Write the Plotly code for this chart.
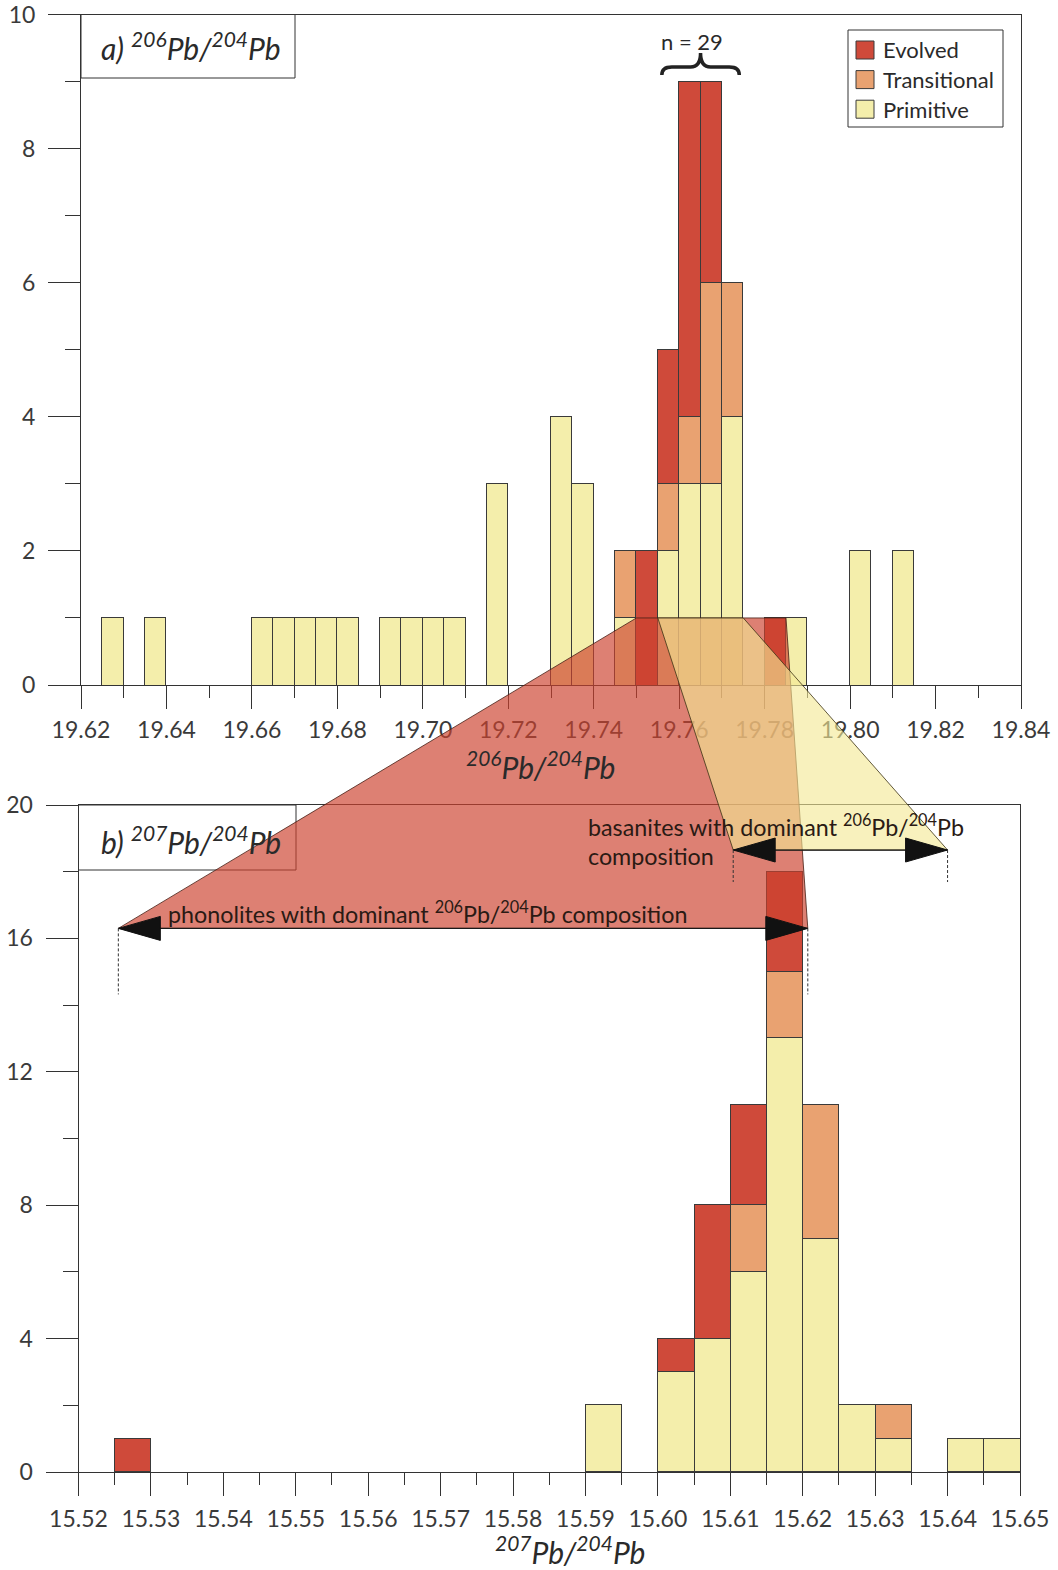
import plotly.graph_objects as go

W, H = 1058, 1570

# ---- 206Pb/204Pb: counts per 0.005-wide bin (left bin edges) ----
pb206_edges = [19.625, 19.635, 19.660, 19.665, 19.670, 19.675, 19.680,
               19.690, 19.695, 19.700, 19.705, 19.715, 19.730, 19.735,
               19.745, 19.750, 19.755, 19.760, 19.765, 19.770, 19.780,
               19.785, 19.800, 19.810]
pb206_primitive = [1, 1, 1, 1, 1, 1, 1, 1, 1, 1, 1, 3, 4, 3, 1, 0, 2, 3, 3, 4, 0, 1, 2, 2]
pb206_transitional = [0, 0, 0, 0, 0, 0, 0, 0, 0, 0, 0, 0, 0, 0, 1, 0, 1, 1, 3, 2, 0, 0, 0, 0]
pb206_evolved = [0, 0, 0, 0, 0, 0, 0, 0, 0, 0, 0, 0, 0, 0, 0, 2, 2, 5, 3, 0, 1, 0, 0, 0]

# ---- 207Pb/204Pb: counts per 0.005-wide bin (left bin edges) ----
pb207_edges = [15.525, 15.590, 15.600, 15.605, 15.610, 15.615, 15.620,
               15.625, 15.630, 15.640, 15.645]
pb207_primitive = [0, 2, 3, 4, 6, 13, 7, 2, 1, 1, 1]
pb207_transitional = [0, 0, 0, 0, 2, 2, 4, 0, 1, 0, 0]
pb207_evolved = [1, 0, 1, 4, 3, 3, 0, 0, 0, 0, 0]

BIN = 0.005
classes = ["Primitive", "Transitional", "Evolved"]
legend_order = ["Evolved", "Transitional", "Primitive"]

# Axis ranges and labelled ticks
pb206_range = [19.62, 19.84]
pb207_range = [15.52, 15.65]
count_a_range = [0, 10]
count_b_range = [0, 20]
count_a_ticks = [0, 2, 4, 6, 8, 10]
count_b_ticks = [0, 4, 8, 12, 16, 20]

# Peak cluster marked with the brace (bin edges)
peak_lo, peak_hi = 19.755, 19.775

# Fans linking 206Pb/204Pb bins (at count 1) to 207Pb/204Pb ranges
phon_top = (19.750, 19.785)
phon_range = (15.5255, 15.6207)
phon_level = 16.3
bas_top = (19.755, 19.775)
bas_range = (15.6104, 15.6400)
bas_level = 18.65

COLORS = {"Evolved": "#cf4a3a", "Transitional": "#e9a271", "Primitive": "#f4eeab"}
INK = "#333333"
FONT = "Lato"

# plot boxes in pixels: (left, right), (bottom, top)
A_X, A_Y = (81.0, 1021.0), (685.0, 14.5)
B_X, B_Y = (78.5, 1020.0), (1472.0, 805.0)


def paper(px, py):
    return px / W, 1 - py / H


def a_px(x, y):
    fx = (x - pb206_range[0]) / (pb206_range[1] - pb206_range[0])
    fy = (y - count_a_range[0]) / (count_a_range[1] - count_a_range[0])
    return A_X[0] + fx * (A_X[1] - A_X[0]), A_Y[0] + fy * (A_Y[1] - A_Y[0])


def b_px(x, y):
    fx = (x - pb207_range[0]) / (pb207_range[1] - pb207_range[0])
    fy = (y - count_b_range[0]) / (count_b_range[1] - count_b_range[0])
    return B_X[0] + fx * (B_X[1] - B_X[0]), B_Y[0] + fy * (B_Y[1] - B_Y[0])


def path(points, close=True):
    parts = []
    for i, (px, py) in enumerate(points):
        x, y = paper(px, py)
        parts.append(("M" if i == 0 else "L") + f"{x:.5f},{y:.5f}")
    return " ".join(parts) + (" Z" if close else "")


fig = go.Figure()


def add_stack(edges, series, xa, ya):
    for name, vals in zip(classes, series):
        xs = [e + BIN / 2 for e, v in zip(edges, vals) if v]
        ys = [v for v in vals if v]
        fig.add_trace(go.Bar(
            x=xs, y=ys, width=BIN, name=name, xaxis=xa, yaxis=ya,
            marker=dict(color=COLORS[name], line=dict(color="#3a3a3a", width=1)),
            showlegend=False, hoverinfo="skip"))


add_stack(pb206_edges, [pb206_primitive, pb206_transitional, pb206_evolved], "x", "y")
add_stack(pb207_edges, [pb207_primitive, pb207_transitional, pb207_evolved], "x2", "y2")

axis_common = dict(
    showline=True, mirror=True, linecolor=INK, linewidth=1,
    ticks="outside", tickcolor=INK, tickwidth=1,
    showgrid=False, zeroline=False, fixedrange=True, automargin=False,
    ticklabeloverflow="allow",
    tickfont=dict(family=FONT, size=23, color="#3a3a3a"),
)


def minor(dtick, length):
    return dict(dtick=dtick, ticklen=length, ticks="outside", tickcolor=INK,
                tickwidth=1, showgrid=False)


fig.update_layout(
    width=W, height=H, margin=dict(l=0, r=0, t=0, b=0),
    paper_bgcolor="white", plot_bgcolor="white",
    barmode="stack", bargap=0, showlegend=False,
    xaxis=dict(axis_common, domain=[A_X[0] / W, A_X[1] / W], anchor="y",
               range=pb206_range, tick0=19.62, dtick=0.02, tickformat=".2f",
               ticklen=23, minor=minor(0.01, 12), ticklabelstandoff=1),
    yaxis=dict(axis_common, domain=[1 - A_Y[0] / H, 1 - A_Y[1] / H], anchor="x",
               range=count_a_range, tickmode="array", tickvals=count_a_ticks,
               ticklen=32, minor=minor(1, 15), ticklabelstandoff=8),
    xaxis2=dict(axis_common, domain=[B_X[0] / W, B_X[1] / W], anchor="y2",
                range=pb207_range, tick0=15.52, dtick=0.01, tickformat=".2f",
                ticklen=23, minor=minor(0.005, 12), ticklabelstandoff=3),
    yaxis2=dict(axis_common, domain=[1 - B_Y[0] / H, 1 - B_Y[1] / H], anchor="x2",
                range=count_b_range, tickmode="array", tickvals=count_b_ticks,
                ticklen=32, minor=minor(2, 15), ticklabelstandoff=8),
)

shapes = []
annotations = []

# panel label boxes
for (x0, x1, y0, y1), label, cy in [
    ((A_X[0], 295, A_Y[1], 78), "a) <sup>206</sup>Pb/<sup>204</sup>Pb", 46),
    ((B_X[0], 296, B_Y[1], 870), "b) <sup>207</sup>Pb/<sup>204</sup>Pb", 840),
]:
    px0, py0 = paper(x0, y1)
    px1, py1 = paper(x1, y0)
    shapes.append(dict(type="rect", xref="paper", yref="paper",
                       x0=px0, x1=px1, y0=py0, y1=py1,
                       line=dict(color=INK, width=1), layer="below"))
    ax, ay = paper(99, cy)
    annotations.append(dict(text=f"<i>{label}</i>", x=ax, y=ay, xref="paper", yref="paper",
                            xanchor="left", yanchor="middle", showarrow=False,
                            font=dict(family=FONT, size=30, color="#2a2a2a")))

# legend
lx0, lx1, ly0, ly1 = 848, 1003, 30, 127
p0, p1 = paper(lx0, ly1), paper(lx1, ly0)
shapes.append(dict(type="rect", xref="paper", yref="paper", x0=p0[0], x1=p1[0],
                   y0=p0[1], y1=p1[1], line=dict(color=INK, width=1),
                   fillcolor="white", layer="above"))
for i, name in enumerate(legend_order):
    cy = 50 + i * 29.6
    q0, q1 = paper(856, cy + 9), paper(874, cy - 9)
    shapes.append(dict(type="rect", xref="paper", yref="paper", x0=q0[0], x1=q1[0],
                       y0=q0[1], y1=q1[1], fillcolor=COLORS[name],
                       line=dict(color="#3a3a3a", width=1), layer="above"))
    tx, ty = paper(881, cy)
    annotations.append(dict(text=name, x=tx, y=ty, xref="paper", yref="paper",
                            xanchor="left", yanchor="middle", showarrow=False,
                            font=dict(family=FONT, size=22, color="#2a2a2a")))

# brace over the peak bins with its count
bl, _ = a_px(peak_lo, 0)
br, _ = a_px(peak_hi, 0)
bc = (bl + br) / 2
yb, ym, yt = 75, 67, 53
brace = (f"M{bl + 4},{yb} Q{bl + 4},{ym} {bl + 14},{ym} L{bc - 10},{ym} "
         f"Q{bc},{ym} {bc},{yt} Q{bc},{ym} {bc + 10},{ym} L{br - 14},{ym} "
         f"Q{br - 4},{ym} {br - 4},{yb}")
tokens = brace.replace("M", "M ").replace("Q", "Q ").replace("L", "L ").split()
conv = []
for t in tokens:
    if t in ("M", "Q", "L"):
        conv.append(t)
    else:
        px_, py_ = map(float, t.split(","))
        x, y = paper(px_, py_)
        conv.append(f"{x:.5f},{y:.5f}")
shapes.append(dict(type="path", xref="paper", yref="paper", path=" ".join(conv),
                   line=dict(color="#222222", width=3.5), layer="above"))
nx, ny = paper(bc - 9, 42)
n_total = sum(p + t + e for x0, p, t, e in zip(pb206_edges, pb206_primitive,
                                               pb206_transitional, pb206_evolved)
              if peak_lo - 1e-9 <= x0 < peak_hi - 1e-9)
annotations.append(dict(text=f"n = {n_total}", x=nx, y=ny, xref="paper", yref="paper",
                        xanchor="center", yanchor="middle", showarrow=False,
                        font=dict(family=FONT, size=22, color="#2a2a2a")))

# fans from the 206Pb/204Pb bins down to the 207Pb/204Pb ranges
red_fan = [a_px(phon_top[0], 1), a_px(phon_top[1], 1),
           b_px(phon_range[1], phon_level), b_px(phon_range[0], phon_level)]
shapes.append(dict(type="path", xref="paper", yref="paper", path=path(red_fan),
                   fillcolor="rgba(204,66,46,0.67)",
                   line=dict(color="rgba(70,30,20,0.8)", width=1), layer="above"))
yel_fan = [a_px(bas_top[0], 1), a_px(bas_top[1], 1),
           b_px(bas_range[1], bas_level), b_px(bas_range[0], bas_level)]
shapes.append(dict(type="path", xref="paper", yref="paper", path=path(yel_fan),
                   fillcolor="rgba(243,232,148,0.62)",
                   line=dict(color="rgba(60,50,20,0.8)", width=1), layer="above"))


# double-headed range arrows with dashed drop lines
def range_arrow(x_lo, x_hi, level, drop):
    (lx, ly), (rx, ry) = b_px(x_lo, level), b_px(x_hi, level)
    shapes.append(dict(type="path", xref="paper", yref="paper",
                       path=path([(lx, ly), (rx, ry)], close=False),
                       line=dict(color="#1a1a1a", width=1.3), layer="above"))
    head_len, head_half = 42, 12
    for tip_x, sign in ((lx, 1), (rx, -1)):
        tri = [(tip_x, ly), (tip_x + sign * head_len, ly - head_half),
               (tip_x + sign * head_len, ly + head_half)]
        shapes.append(dict(type="path", xref="paper", yref="paper", path=path(tri),
                           fillcolor="#111111", line=dict(color="#111111", width=1),
                           layer="above"))
        shapes.append(dict(type="path", xref="paper", yref="paper",
                           path=path([(tip_x, ly), (tip_x, ly + drop)], close=False),
                           line=dict(color="#333333", width=1, dash="3px,2px"),
                           layer="above"))


range_arrow(*phon_range, phon_level, 66)
range_arrow(*bas_range, bas_level, 32)

txt_font = dict(family=FONT, size=23.3, color="#2a1a14")
for text, (tx, ty) in [
    ("phonolites with dominant <sup>206</sup>Pb/<sup>204</sup>Pb composition", (166, 912)),
    ("basanites with dominant <sup>206</sup>Pb/<sup>204</sup>Pb", (586, 825)),
    ("composition", (586, 856)),
]:
    x, y = paper(tx, ty)
    annotations.append(dict(text=text, x=x, y=y, xref="paper", yref="paper",
                            xanchor="left", yanchor="middle", showarrow=False,
                            font=txt_font))

# axis titles
for text, (tx, ty) in [
    ("<i><sup>206</sup>Pb/<sup>204</sup>Pb</i>", (540, 765)),
    ("<i><sup>207</sup>Pb/<sup>204</sup>Pb</i>", (570, 1550)),
]:
    x, y = paper(tx, ty)
    annotations.append(dict(text=text, x=x, y=y, xref="paper", yref="paper",
                            xanchor="center", yanchor="middle", showarrow=False,
                            font=dict(family=FONT, size=30, color="#2a2a2a")))

fig.update_layout(shapes=shapes, annotations=annotations)
fig.write_html("out.html")
